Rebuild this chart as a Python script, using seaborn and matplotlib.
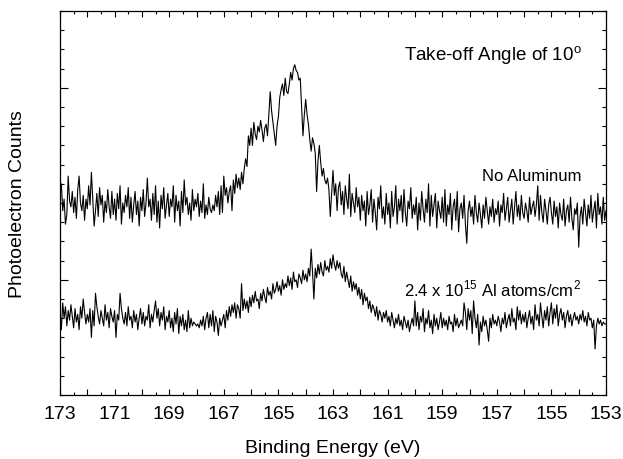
import numpy as np
import pandas as pd
import matplotlib
matplotlib.use("Agg")
import matplotlib.pyplot as plt
from matplotlib.ticker import MultipleLocator, FixedLocator, NullFormatter
import seaborn as sns

# Binding energy axis (eV), 0.05 eV steps from 173 to 153
energy_start = 173.0
energy_step = -0.05

# "No Aluminum" spectrum (arbitrary count units)
no_aluminum = [
    10.4, 11.0, 9.6, 10.2, 8.9, 9.4, 11.4, 10.1, 9.8, 10.6, 9.5, 10.3, 9.2, 10.7, 11.4, 10.0, 9.6, 10.4, 9.1, 10.2,
    9.7, 10.9, 9.9, 11.6, 10.2, 8.8, 9.6, 10.5, 9.3, 10.8, 9.9, 10.4, 9.0, 10.1, 9.5, 10.7, 9.8, 9.2, 10.6, 9.4,
    10.2, 9.1, 10.5, 9.7, 10.9, 8.9, 10.0, 9.5, 10.4, 9.8, 10.8, 9.2, 10.3, 9.0, 9.9, 10.6, 9.4, 10.1, 8.8, 10.3,
    9.6, 10.7, 9.3, 10.0, 11.3, 9.8, 10.2, 9.1, 10.5, 9.4, 10.9, 9.0, 10.1, 8.7, 10.4, 9.7, 10.8, 9.2, 9.9, 10.5,
    9.3, 10.2, 9.8, 10.9, 9.0, 10.4, 9.6, 10.1, 8.8, 10.6, 9.5, 11.2, 9.9, 10.3, 9.4, 10.0, 9.1, 10.7, 9.6, 10.2,
    9.8, 10.5, 9.3, 10.1, 9.5, 11.0, 9.2, 9.9, 9.4, 10.3, 9.7, 9.5, 9.9, 9.6, 10.4, 9.8, 10.6, 9.4, 10.9, 9.5,
    11.4, 10.4, 10.8, 10.0, 10.6, 10.9, 9.6, 11.2, 10.5, 11.5, 10.8, 11.3, 10.7, 11.6, 11.0, 11.8, 12.3, 11.9, 13.5, 13.0,
    13.9, 13.0, 14.2, 13.6, 13.3, 14.0, 13.7, 14.3, 13.8, 13.2, 13.9, 14.1, 13.5, 14.6, 15.8, 14.8, 14.2, 13.6, 13.0, 14.0,
    14.5, 15.5, 15.9, 16.2, 15.6, 16.5, 15.8, 15.7, 16.2, 16.8, 16.4, 17.0, 17.2, 16.9, 16.8, 16.4, 16.5, 15.0, 13.5, 14.6,
    15.4, 14.6, 14.1, 13.3, 12.7, 13.4, 13.1, 12.6, 10.6, 12.2, 13.0, 12.1, 11.4, 11.8, 11.2, 11.0, 11.3, 10.7, 9.3, 10.5,
    11.7, 10.4, 11.0, 9.6, 10.8, 11.1, 9.9, 10.6, 9.4, 10.9, 10.2, 9.7, 11.5, 9.3, 10.5, 10.0, 9.5, 10.8, 9.8, 10.3,
    9.1, 10.4, 9.6, 10.1, 8.8, 10.6, 9.4, 9.9, 10.7, 9.0, 10.2, 9.5, 8.6, 10.3, 9.7, 10.9, 9.2, 9.8, 8.9, 10.5,
    9.4, 10.0, 8.7, 10.6, 9.3, 9.8, 10.9, 8.9, 10.2, 9.6, 10.4, 9.0, 10.7, 9.5, 8.8, 10.1, 9.7, 10.8, 9.2, 9.9,
    9.4, 10.3, 8.6, 10.0, 9.1, 10.6, 9.7, 9.0, 10.2, 9.5, 11.0, 8.8, 10.4, 9.3, 9.9, 10.5, 8.7, 10.1, 9.6, 9.2,
    10.3, 9.0, 10.7, 8.8, 9.9, 9.4, 10.5, 8.6, 9.8, 10.2, 9.1, 10.6, 8.5, 9.7, 10.0, 9.2, 10.4, 8.9, 7.9, 9.6,
    10.1, 9.3, 9.8, 8.9, 10.4, 9.5, 9.0, 10.0, 9.4, 8.7, 9.9, 9.2, 10.3, 9.6, 8.9, 9.8, 9.3, 10.2, 9.0, 9.7,
    9.4, 10.1, 8.8, 9.9, 9.5, 10.5, 9.1, 9.7, 10.3, 9.0, 9.6, 10.2, 8.9, 9.8, 10.6, 9.3, 9.9, 9.1, 10.4, 9.5,
    9.2, 10.0, 9.6, 9.0, 10.3, 9.4, 9.8, 10.1, 9.3, 9.9, 10.9, 9.1, 10.4, 9.5, 9.0, 10.2, 9.6, 8.9, 9.9, 10.3,
    9.5, 8.9, 10.1, 9.3, 9.8, 8.7, 10.0, 9.4, 9.1, 10.2, 8.8, 9.6, 9.9, 9.0, 10.3, 9.2, 8.6, 9.7, 9.4, 10.0,
    7.7, 9.3, 9.8, 8.9, 10.2, 9.5, 8.8, 9.9, 9.2, 10.4, 9.0, 9.6, 10.1, 8.7, 10.5, 9.4, 9.8, 8.9, 10.3, 9.1,
    9.6,
]

# "2.4 x 10^15 Al atoms/cm^2" spectrum
with_aluminum = [
    4.3, 3.4, 4.8, 4.0, 4.6, 3.6, 4.4, 3.9, 4.7, 4.1, 3.5, 4.5, 3.8, 4.2, 3.4, 4.6, 4.0, 5.0, 4.3, 3.7,
    4.2, 3.8, 4.5, 3.0, 4.4, 3.6, 5.3, 4.6, 4.1, 3.7, 4.4, 4.0, 3.6, 4.7, 3.9, 4.3, 3.5, 4.5, 4.1, 3.8,
    4.4, 3.0, 4.2, 3.9, 5.3, 4.5, 4.0, 3.7, 4.3, 3.6, 4.6, 3.9, 4.1, 3.5, 4.4, 3.8, 4.2, 3.4, 4.0, 4.5,
    3.7, 4.3, 3.6, 4.1, 3.9, 4.7, 3.5, 4.2, 3.8, 4.4, 4.9, 4.0, 4.5, 3.6, 4.3, 3.9, 4.6, 3.4, 4.1, 3.8,
    4.4, 3.5, 4.0, 3.3, 4.3, 3.7, 4.5, 3.2, 4.1, 3.6, 4.2, 3.4, 3.9, 3.3, 4.4, 3.5, 4.0, 3.6, 3.8, 3.7,
    3.6, 3.7, 3.5, 3.9, 3.6, 4.1, 3.4, 4.0, 4.3, 3.5, 4.2, 3.6, 4.4, 3.3, 4.1, 3.8, 3.1, 4.0, 3.6, 3.9,
    4.2, 3.5, 4.4, 3.9, 4.6, 4.1, 4.7, 4.3, 4.8, 4.0, 4.7, 4.5, 4.0, 5.8, 4.4, 5.0, 4.5, 4.9, 4.3, 5.1,
    4.6, 5.2, 4.8, 5.4, 4.9, 5.0, 4.5, 5.3, 4.9, 5.5, 5.1, 4.8, 5.6, 5.2, 5.4, 5.0, 5.8, 5.3, 5.5, 5.9,
    5.4, 5.7, 5.2, 6.0, 5.5, 5.8, 5.6, 6.2, 5.7, 6.1, 5.5, 6.4, 5.9, 6.0, 5.6, 6.3, 6.1, 5.8, 6.5, 6.0,
    6.3, 5.9, 6.6, 6.2, 7.6, 6.4, 5.0, 6.6, 6.1, 6.8, 6.3, 6.9, 6.4, 6.2, 7.0, 6.5, 6.7, 6.4, 7.1, 6.6,
    7.3, 6.8, 6.5, 7.0, 6.6, 6.9, 6.3, 6.1, 6.7, 5.9, 6.4, 6.0, 5.6, 6.2, 5.4, 5.9, 5.5, 5.8, 5.2, 5.6,
    5.0, 5.5, 4.7, 5.3, 4.9, 5.1, 4.5, 4.9, 4.3, 4.7, 4.5, 4.1, 4.6, 3.9, 4.4, 4.2, 3.8, 4.3, 4.0, 4.4,
    3.8, 4.1, 3.6, 4.3, 3.9, 3.5, 4.0, 3.7, 4.2, 3.6, 3.9, 3.4, 4.1, 3.8, 3.5, 3.9, 3.3, 3.7, 4.0, 3.6,
    4.9, 3.6, 4.3, 3.4, 4.1, 3.8, 4.5, 3.3, 4.0, 3.7, 4.4, 3.5, 3.9, 3.2, 4.2, 3.6, 4.0, 3.4, 3.8, 4.3,
    3.5, 4.0, 3.6, 3.9, 3.4, 4.1, 3.7, 3.8, 3.3, 4.2, 3.6, 4.0, 3.5, 3.7, 3.9, 3.6, 4.8, 4.3, 3.4, 4.5,
    3.9, 4.4, 3.2, 4.9, 4.0, 3.5, 4.2, 2.6, 3.8, 3.3, 4.1, 3.6, 3.9, 3.4, 2.8, 4.0, 3.5, 4.2, 3.7, 3.9,
    3.6, 4.1, 3.8, 3.3, 4.0, 3.7, 4.3, 3.5, 3.9, 4.2, 3.6, 4.5, 3.8, 4.0, 3.4, 4.6, 3.9, 4.4, 3.7, 4.2,
    3.8, 4.3, 3.5, 4.0, 4.4, 3.7, 4.1, 3.4, 4.7, 3.9, 4.2, 3.6, 4.8, 4.1, 3.5, 4.4, 3.9, 4.6, 3.6, 4.3,
    4.8, 3.7, 4.5, 4.0, 4.7, 3.6, 4.2, 4.5, 3.9, 4.3, 3.5, 4.1, 4.4, 3.8, 4.2, 3.6, 4.0, 4.3, 3.9, 4.1,
    3.7, 4.2, 3.9, 4.4, 3.8, 4.1, 3.6, 4.3, 3.9, 4.0, 3.5, 3.9, 2.4, 3.6, 4.0, 3.7, 3.9, 3.6, 3.8, 3.7,
    3.7,
]

x_tick_values = [173, 171, 169, 167, 165, 163, 161, 159, 157, 155, 153]

title_text = "Take-off Angle of 10$^{\\mathrm{o}}$"
label_top = "No Aluminum"
label_bottom = "2.4 x 10$^{\\mathrm{15}}$ Al atoms/cm$^{\\mathrm{2}}$"

energy = energy_start + energy_step * np.arange(len(no_aluminum))
df = pd.DataFrame({
    "energy": np.concatenate([energy, energy]),
    "counts": np.concatenate([no_aluminum, with_aluminum]),
    "series": [label_top] * len(energy) + [label_bottom] * len(energy),
})

sns.set_style("ticks")
plt.rcParams["font.family"] = ["Liberation Sans", "DejaVu Sans"]
plt.rcParams["mathtext.fontset"] = "custom"
plt.rcParams["mathtext.rm"] = "Liberation Sans"
for key in ["text.color", "axes.labelcolor", "xtick.color", "ytick.color", "axes.edgecolor"]:
    plt.rcParams[key] = "black"

fig = plt.figure(figsize=(6.23, 4.6), dpi=100)
ax = fig.add_axes([60 / 623, 1 - 396 / 460, 546 / 623, 384 / 460])

sns.lineplot(data=df, x="energy", y="counts", units="series", estimator=None,
             sort=False, color="black", linewidth=0.8, ax=ax, legend=False)

ax.set_xlim(173, 153)
ax.set_ylim(0, 20)

all_ticks = list(range(153, 174))
ax.set_xticks(all_ticks)
ax.set_xticklabels([str(v) if v in x_tick_values else "" for v in all_ticks])
ax.xaxis.set_minor_locator(MultipleLocator(0.5))
ax.yaxis.set_major_locator(FixedLocator([6, 16]))
ax.yaxis.set_minor_locator(MultipleLocator(1))
ax.yaxis.set_major_formatter(NullFormatter())

ax.tick_params(axis="both", which="both", direction="in", top=True, right=True,
               color="black", width=0.8)
ax.tick_params(axis="x", which="major", length=4.5, labelsize=14, pad=7)
ax.tick_params(axis="x", which="minor", length=2)
ax.tick_params(axis="y", which="major", length=6)
ax.tick_params(axis="y", which="minor", length=3)
for s in ax.spines.values():
    s.set_linewidth(0.9)
    s.set_color("black")

ax.set_xlabel("Binding Energy (eV)", fontsize=14)
ax.set_ylabel("Photoelectron Counts", fontsize=14)
ax.xaxis.set_label_coords(0.5, -0.115)
ax.yaxis.set_label_coords(-0.062, 0.5)

ax.text(153.9, 17.75, title_text, ha="right", va="center", fontsize=13.5)
ax.text(153.9, 11.45, label_top, ha="right", va="center", fontsize=12)
ax.text(153.9, 5.55, label_bottom, ha="right", va="center", fontsize=12)

fig.savefig("out.png", dpi=100)
